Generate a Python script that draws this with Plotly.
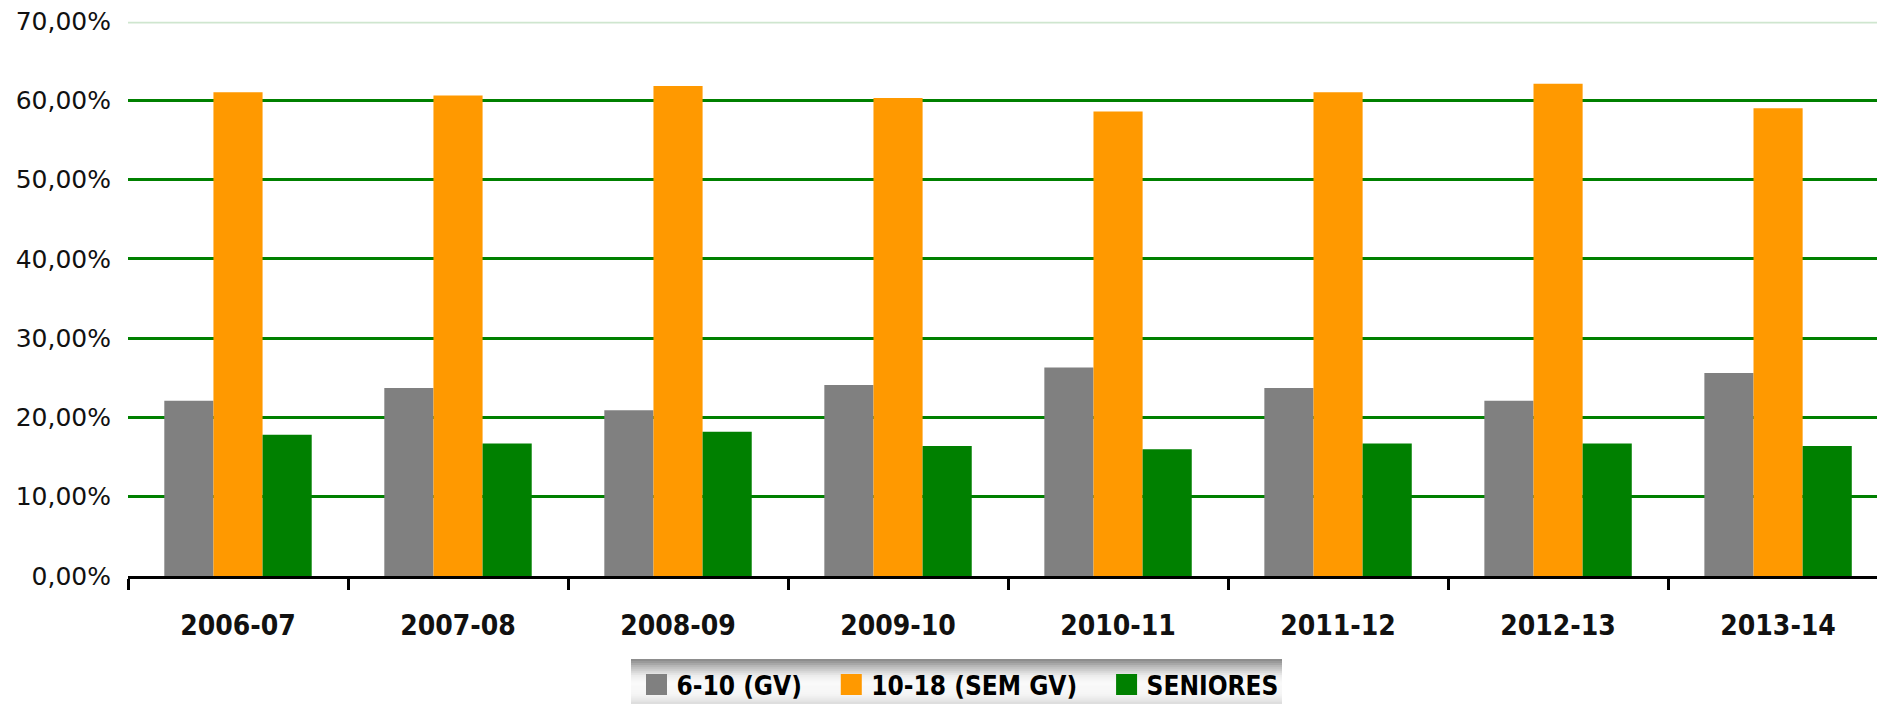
import plotly.graph_objects as go

# data (percent)
seasons = ["2006-07", "2007-08", "2008-09", "2009-10", "2010-11", "2011-12", "2012-13", "2013-14"]
gv_6_10 = [22.1, 23.7, 20.9, 24.1, 26.3, 23.7, 22.1, 25.6]
sem_gv_10_18 = [61.0, 60.6, 61.8, 60.3, 58.6, 61.0, 62.1, 59.0]
seniores = [17.8, 16.7, 18.2, 16.4, 16.0, 16.7, 16.7, 16.4]

series_names = ["6-10 (GV)", "10-18 (SEM GV)", "SENIORES"]
series_colors = ["#808080", "#FF9900", "#008000"]
y_ticks = [0, 10, 20, 30, 40, 50, 60, 70]
y_ticktext = [f"{v:.2f}%".replace(".", ",") for v in y_ticks]

# the page body has an 8px margin, so the figure is shrunk and everything
# is laid out in window pixels minus that offset
OFF = 8
W, H = 1885 - OFF, 704 - OFF
ML, MR, MT, MB = 128 - OFF, 0, 21 - OFF, 704 - 576
NARROW = "DejaVu Sans Condensed, Liberation Sans Narrow, Arial Narrow, Liberation Sans, sans-serif"
PAD = "\u00a0\u00a0\u00a0"  # extra room between legend entries

fig = go.Figure()
for i, (name, vals, col) in enumerate(zip(series_names, [gv_6_10, sem_gv_10_18, seniores], series_colors)):
    fig.add_trace(go.Bar(x=seasons, y=vals, name=name, marker_color=col,
                         marker_line_width=0, showlegend=False))
    # legend proxy so the swatch can be bigger than the bar icon
    label = name + (PAD if i < len(series_names) - 1 else "")
    fig.add_trace(go.Scatter(x=[seasons[0]], y=[None], mode="markers", name=label,
                             marker=dict(symbol="square", size=16, color=col,
                                         line=dict(color=col, width=5))))


def px_to_paper(wx, wy):
    # window pixel -> paper coordinate
    px, py = wx - OFF, wy - OFF
    return (px - ML) / (W - ML - MR), (H - MB - py) / (H - MT - MB)


# metallic legend background (vertical gradient built from thin strips)
box_x0, box_x1, box_y0, box_y1 = 631, 1282, 659, 706
stops = [(0.0, 134), (0.15, 182), (0.35, 236), (0.5, 250), (0.75, 246), (1.0, 214)]


def grey_at(t):
    for (t0, g0), (t1, g1) in zip(stops, stops[1:]):
        if t <= t1:
            return g0 + (g1 - g0) * (t - t0) / (t1 - t0)
    return stops[-1][1]


n_strips = 24
shapes = []
for i in range(n_strips):
    ya = box_y0 + (box_y1 - box_y0) * i / n_strips
    yb = box_y0 + (box_y1 - box_y0) * (i + 1) / n_strips + 0.6
    g = int(round(grey_at((i + 0.5) / n_strips)))
    x0p, y0p = px_to_paper(box_x0, ya)
    x1p, y1p = px_to_paper(box_x1, yb)
    shapes.append(dict(type="rect", xref="paper", yref="paper", x0=x0p, x1=x1p,
                       y0=y1p, y1=y0p, line_width=0, fillcolor=f"rgb({g},{g},{g})"))

# pale double line at the top of the plot area
shapes.append(dict(type="line", xref="paper", yref="y", x0=0, x1=1, y0=70, y1=70,
                   line=dict(color="#cfe6cf", width=5), layer="above"))
shapes.append(dict(type="line", xref="paper", yref="y", x0=0, x1=1, y0=70, y1=70,
                   line=dict(color="white", width=1.5), layer="above"))

fig.update_layout(
    width=W, height=H,
    margin=dict(l=ML, r=MR, t=MT, b=MB, autoexpand=False),
    paper_bgcolor="white",
    plot_bgcolor="white",
    barmode="group",
    bargap=0.33,
    bargroupgap=0,
    shapes=shapes,
    xaxis=dict(
        type="category",
        range=[-0.5, 7.486],
        showgrid=False,
        showline=True, linecolor="black", linewidth=3,
        ticks="outside", tickson="boundaries", ticklen=11, tickwidth=3, tickcolor="black",
        tickfont=dict(family=NARROW, size=28, color="#111111", weight="bold"),
        ticklabelstandoff=22,
        automargin=False,
    ),
    yaxis=dict(
        range=[0, 70],
        tickvals=y_ticks, ticktext=y_ticktext,
        showgrid=True, gridcolor="#008000", gridwidth=3,
        zeroline=False, showline=False, ticks="",
        tickfont=dict(family="DejaVu Sans", size=25, color="#111111"),
        ticklabelstandoff=16,
        ticklabeloverflow="allow",
        automargin=False,
    ),
    legend=dict(
        orientation="h",
        xref="container", yref="container",
        x=(960 - OFF) / W, xanchor="center",
        y=1 - (661 - OFF) / H, yanchor="top",
        bgcolor="rgba(0,0,0,0)",
        font=dict(family=NARROW, size=26, color="black", weight="bold"),
        itemsizing="trace",
    ),
)

fig.write_html("out.html")
